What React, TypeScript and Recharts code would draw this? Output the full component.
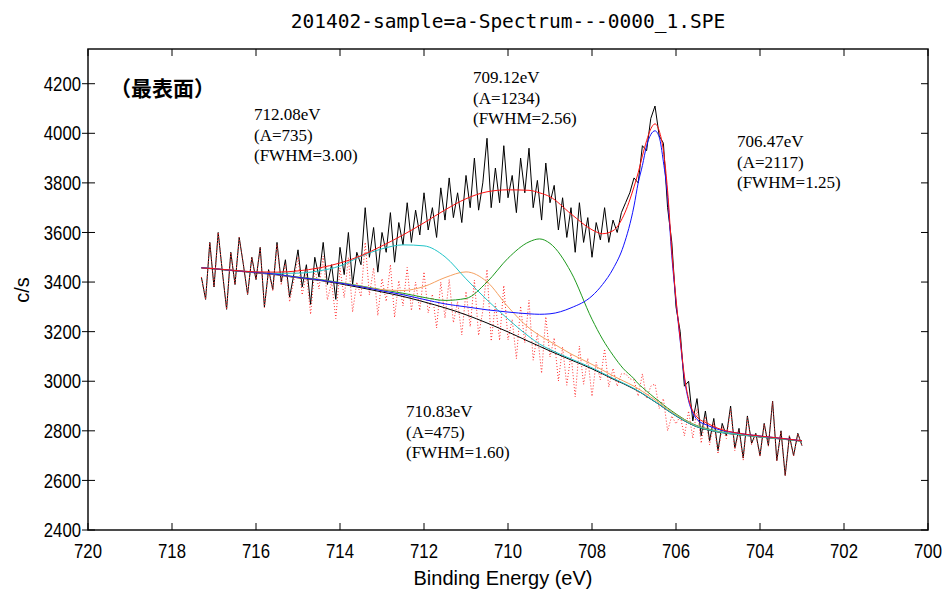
import React from 'react';
import {
  LineChart,
  Line,
  XAxis,
  YAxis,
  ReferenceArea,
} from 'recharts';

// binding energy grid of the measured spectrum (eV)
const energies = [
  717.3, 717.2, 717.1,
  717.0, 716.9, 716.8, 716.7, 716.6, 716.5, 716.4, 716.3, 716.2, 716.1,
  716.0, 715.9, 715.8, 715.7, 715.6, 715.5, 715.4, 715.3, 715.2, 715.1,
  715.0, 714.9, 714.8, 714.7, 714.6, 714.5, 714.4, 714.3, 714.2, 714.1,
  714.0, 713.9, 713.8, 713.7, 713.6, 713.5, 713.4, 713.3, 713.2, 713.1,
  713.0, 712.9, 712.8, 712.7, 712.6, 712.5, 712.4, 712.3, 712.2, 712.1,
  712.0, 711.9, 711.8, 711.7, 711.6, 711.5, 711.4, 711.3, 711.2, 711.1,
  711.0, 710.9, 710.8, 710.7, 710.6, 710.5, 710.4, 710.3, 710.2, 710.1,
  710.0, 709.9, 709.8, 709.7, 709.6, 709.5, 709.4, 709.3, 709.2, 709.1,
  709.0, 708.9, 708.8, 708.7, 708.6, 708.5, 708.4, 708.3, 708.2, 708.1,
  708.0, 707.9, 707.8, 707.7, 707.6, 707.5, 707.4, 707.3, 707.2, 707.1,
  707.0, 706.9, 706.8, 706.7, 706.6, 706.5, 706.4, 706.3, 706.2, 706.1,
  706.0, 705.9, 705.8, 705.7, 705.6, 705.5, 705.4, 705.3, 705.2, 705.1,
  705.0, 704.9, 704.8, 704.7, 704.6, 704.5, 704.4, 704.3, 704.2, 704.1,
  704.0, 703.9, 703.8, 703.7, 703.6, 703.5, 703.4, 703.3, 703.2, 703.1,
  703.0,
];

// measured counts (c/s), black
const counts = [
  3420, 3330, 3560,
  3380, 3600, 3440, 3290, 3520, 3390, 3580, 3470, 3350, 3500,
  3410, 3540, 3300, 3450, 3370, 3560, 3400, 3490, 3340, 3430,
  3530, 3380, 3470, 3310, 3500, 3420, 3560, 3390, 3470, 3330,
  3540, 3430, 3600, 3390, 3520, 3470, 3700, 3500, 3620, 3440,
  3600, 3520, 3680, 3480, 3640, 3550, 3720, 3560, 3690, 3590,
  3760, 3610, 3700, 3580, 3780, 3650, 3820, 3660, 3760, 3640,
  3830, 3700, 3900, 3690, 3800, 3980, 3700, 3860, 3720, 3950,
  3740, 3830, 3680, 3900, 3760, 3940, 3700, 3810, 3650, 3880,
  3720, 3790, 3610, 3740, 3580, 3700, 3520, 3720, 3560, 3660,
  3500, 3640, 3570, 3700, 3560, 3650, 3600, 3680, 3720, 3760,
  3820, 3800, 3950, 3930, 4060, 4110, 3990, 3960, 3700, 3560,
  3300, 3200, 2980, 3000, 2840, 2930, 2780, 2880, 2760, 2850,
  2720, 2830, 2780, 2900, 2730, 2810, 2690, 2860, 2750, 2790,
  2700, 2830, 2740, 2920, 2680, 2800, 2620, 2780, 2700, 2790,
  2740,
];

// residual on background (red dotted)
const residual = [
  3420, 3330, 3560,
  3380, 3600, 3440, 3290, 3520, 3390, 3580, 3470, 3350, 3500,
  3410, 3538, 3297, 3446, 3365, 3552, 3388, 3474, 3320, 3406,
  3502, 3348, 3434, 3270, 3456, 3372, 3505, 3328, 3400, 3253,
  3456, 3337, 3498, 3279, 3400, 3341, 3560, 3348, 3457, 3265,
  3414, 3322, 3470, 3258, 3406, 3304, 3459, 3285, 3400, 3286,
  3441, 3276, 3351, 3215, 3400, 3255, 3410, 3236, 3321, 3187,
  3362, 3220, 3408, 3185, 3283, 3451, 3162, 3313, 3165, 3386,
  3167, 3249, 3091, 3303, 3155, 3327, 3085, 3193, 3032, 3260,
  3098, 3175, 3001, 3138, 2984, 3111, 2937, 3142, 2988, 3093,
  2939, 3077, 3005, 3130, 2977, 3052, 2980, 3030, 3030, 3010,
  3005, 2940, 3030, 2930, 2980, 2989, 2890, 2930, 2800, 2860,
  2828, 2860, 2780, 2880, 2770, 2890, 2750, 2858, 2743, 2835,
  2707, 2818, 2769, 2889, 2720, 2801, 2682, 2853, 2744, 2785,
  2696, 2828, 2738, 2918, 2678, 2798, 2618, 2778, 2698, 2788,
  2738,
];

// grid for the fitted curves (eV)
const fitE = [
  717.3, 717.0, 716.5, 716.0, 715.5, 715.0, 714.5, 714.0, 713.5, 713.0,
  712.5, 712.0, 711.5, 711.0, 710.5, 710.0, 709.5, 709.25, 709.0, 708.5,
  708.0, 707.75, 707.5, 707.25, 707.0, 706.9, 706.8, 706.7, 706.6, 706.5,
  706.4, 706.3, 706.2, 706.1, 706.0, 705.9, 705.8, 705.7, 705.6, 705.5,
  705.25, 705.0, 704.5, 704.0, 703.5, 703.0,
];

const background = [
  3457, 3453, 3445, 3437, 3429, 3417, 3407, 3393, 3377, 3360,
  3342, 3320, 3296, 3268, 3235, 3199, 3160, 3141, 3122, 3086,
  3050, 3030, 3009, 2990, 2969, 2960, 2950, 2939, 2928, 2917,
  2906, 2894, 2882, 2871, 2860, 2850, 2840, 2831, 2823, 2816,
  2804, 2795, 2784, 2775, 2767, 2758,
];

const envelope = [
  3457, 3454, 3447, 3441, 3440, 3445, 3457, 3477, 3506, 3546,
  3590, 3639, 3691, 3736, 3764, 3772, 3770, 3760, 3744, 3675,
  3611, 3595, 3607, 3667, 3784, 3841, 3909, 3970, 4018, 4038,
  4010, 3930, 3768, 3526, 3332, 3171, 3021, 2929, 2880, 2856,
  2830, 2810, 2790, 2779, 2770, 2760,
];

// 706.47 eV component
const peak706 = [
  3458, 3454, 3446, 3439, 3431, 3419, 3409, 3396, 3381, 3365,
  3349, 3330, 3312, 3300, 3288, 3279, 3272, 3270, 3272, 3296,
  3344, 3390, 3453, 3546, 3707, 3800, 3870, 3950, 3995, 4010,
  3985, 3885, 3745, 3506, 3324, 3163, 3012, 2921, 2872, 2846,
  2822, 2806, 2790, 2779, 2770, 2760,
];

// 709.12 eV component
const peak709 = [
  3458, 3454, 3446, 3439, 3431, 3420, 3411, 3398, 3384, 3369,
  3355, 3338, 3326, 3334, 3400, 3496, 3562, 3574, 3556, 3440,
  3250, 3170, 3105, 3050, 3010, 2990, 2975, 2960, 2946, 2932,
  2919, 2905, 2892, 2880, 2868, 2857, 2846, 2837, 2828, 2821,
  2808, 2798, 2786, 2776, 2768, 2759,
];

// 710.83 eV component
const peak710 = [
  3458, 3454, 3446, 3438, 3430, 3418, 3409, 3396, 3382, 3369,
  3366, 3382, 3418, 3441, 3401, 3300, 3215, 3185, 3160, 3110,
  3068, 3045, 3022, 3001, 2980, 2970, 2959, 2948, 2936, 2925,
  2913, 2900, 2888, 2876, 2865, 2854, 2844, 2835, 2826, 2819,
  2806, 2797, 2785, 2776, 2768, 2759,
];

// 712.08 eV component
const peak712 = [
  3457, 3454, 3447, 3440, 3435, 3436, 3445, 3465, 3504, 3534,
  3550, 3546, 3502, 3413, 3328, 3251, 3180, 3150, 3128, 3090,
  3054, 3033, 3012, 2992, 2971, 2961, 2951, 2940, 2929, 2918,
  2907, 2895, 2883, 2872, 2861, 2851, 2841, 2832, 2824, 2817,
  2805, 2796, 2785, 2776, 2768, 2759,
];

const xTicks = [720, 718, 716, 714, 712, 710, 708, 706, 704, 702, 700];
const yTicks = [2400, 2600, 2800, 3000, 3200, 3400, 3600, 3800, 4000, 4200];

const W = 940;
const H = 582;
const PLOT = { left: 80, right: 920, top: 41, bottom: 522 };
const tickFont = "'Liberation Sans', Arial, sans-serif";
const serif = "'Liberation Serif', 'Times New Roman', serif";
// tick digits in the original are narrow, squeeze them to that width
const DIGIT_W = 9.3;

const spectrum = energies.map((e, i) => ({ e, counts: counts[i], resid: residual[i] }));
const fit = fitE.map((e, i) => ({
  e,
  bg: background[i],
  env: envelope[i],
  p706: peak706[i],
  p709: peak709[i],
  p710: peak710[i],
  p712: peak712[i],
}));

function XTick({ x, payload }: any) {
  const label = String(payload.value);
  return (
    <g>
      <line x1={x} x2={x} y1={PLOT.bottom} y2={PLOT.bottom - 7} stroke="#000" />
      <line x1={x} x2={x} y1={PLOT.top} y2={PLOT.top + 7} stroke="#000" />
      <text
        x={x}
        y={PLOT.bottom + 28}
        textAnchor="middle"
        fontSize={20}
        fontFamily={tickFont}
        fill="#000"
        textLength={label.length * DIGIT_W}
        lengthAdjust="spacingAndGlyphs"
      >
        {label}
      </text>
    </g>
  );
}

function YTick({ y, payload }: any) {
  const label = String(payload.value);
  return (
    <g>
      <line x1={PLOT.left - 6} x2={PLOT.left + 7} y1={y} y2={y} stroke="#000" />
      <line x1={PLOT.right - 7} x2={PLOT.right} y1={y} y2={y} stroke="#000" />
      <text
        x={PLOT.left - 7}
        y={y}
        dy="0.36em"
        textAnchor="end"
        fontSize={20}
        fontFamily={tickFont}
        fill="#000"
        textLength={label.length * DIGIT_W}
        lengthAdjust="spacingAndGlyphs"
      >
        {label}
      </text>
    </g>
  );
}

function Note({ left, top, lines }: { left: number; top: number; lines: string[] }) {
  return (
    <div
      style={{
        position: 'absolute',
        left,
        top,
        fontFamily: serif,
        fontSize: 17,
        lineHeight: '20.5px',
        whiteSpace: 'nowrap',
        color: '#000',
      }}
    >
      {lines.map((l) => (
        <div key={l}>{l}</div>
      ))}
    </div>
  );
}

export default function App() {
  return (
    <div style={{ position: 'relative', width: W, height: H }}>
      <LineChart
        width={W}
        height={H - 8}
        margin={{ top: PLOT.top, right: W - PLOT.right, left: 0, bottom: 12 }}
      >
        <XAxis
          dataKey="e"
          type="number"
          domain={[700, 720]}
          reversed
          ticks={xTicks}
          interval={0}
          axisLine={false}
          tickLine={false}
          tick={<XTick />}
          height={40}
          allowDataOverflow
        />
        <YAxis
          type="number"
          domain={[2400, 4340]}
          ticks={yTicks}
          interval={0}
          axisLine={false}
          tickLine={false}
          tick={<YTick />}
          width={80}
          allowDataOverflow
        />
        <ReferenceArea
          x1={720}
          x2={700}
          y1={2400}
          y2={4340}
          fill="none"
          fillOpacity={0}
          stroke="#111"
          strokeWidth={1.5}
        />
        <Line data={spectrum} dataKey="counts" stroke="#000" strokeWidth={1} dot={false} type="linear" isAnimationActive={false} />
        <Line data={spectrum} dataKey="resid" stroke="#ff3030" strokeWidth={1} strokeDasharray="1 2" dot={false} type="linear" isAnimationActive={false} />
        <Line data={fit} dataKey="bg" stroke="#000" strokeWidth={1} dot={false} type="monotone" isAnimationActive={false} />
        <Line data={fit} dataKey="p709" stroke="#1e9a1e" strokeWidth={1} dot={false} type="monotone" isAnimationActive={false} />
        <Line data={fit} dataKey="p710" stroke="#f5a060" strokeWidth={1} dot={false} type="monotone" isAnimationActive={false} />
        <Line data={fit} dataKey="p712" stroke="#20c4c8" strokeWidth={1} dot={false} type="monotone" isAnimationActive={false} />
        <Line data={fit} dataKey="p706" stroke="#1010ff" strokeWidth={1} dot={false} type="monotone" isAnimationActive={false} />
        <Line data={fit} dataKey="env" stroke="#ff1010" strokeWidth={1} dot={false} type="monotone" isAnimationActive={false} />
      </LineChart>

      <div
        style={{
          position: 'absolute',
          left: 0,
          width: 1000,
          top: 2,
          lineHeight: '24px',
          textAlign: 'center',
          fontFamily: "'DejaVu Sans Mono', monospace",
          fontSize: 19.5,
          color: '#000',
        }}
      >
        201402-sample=a-Spectrum---0000_1.SPE
      </div>
      <div
        style={{
          position: 'absolute',
          left: 0,
          width: 990,
          top: 558,
          lineHeight: '24px',
          textAlign: 'center',
          fontFamily: "'Liberation Sans', Arial, sans-serif",
          fontSize: 20,
          color: '#000',
        }}
      >
        Binding Energy (eV)
      </div>
      <div
        style={{
          position: 'absolute',
          left: -6,
          top: 270,
          width: 40,
          lineHeight: '24px',
          textAlign: 'center',
          transform: 'rotate(-90deg)',
          fontFamily: "'Liberation Sans', Arial, sans-serif",
          fontSize: 20,
          color: '#000',
        }}
      >
        c/s
      </div>
      <div
        style={{
          position: 'absolute',
          left: 102,
          top: 67,
          lineHeight: '24px',
          fontFamily: "'Noto Sans CJK JP', sans-serif",
          fontWeight: 700,
          fontSize: 21,
          color: '#000',
          whiteSpace: 'nowrap',
        }}
      >
        （最表面）
      </div>
      <Note left={246} top={97} lines={['712.08eV', '(A=735)', '(FWHM=3.00)']} />
      <Note left={465} top={60} lines={['709.12eV', '(A=1234)', '(FWHM=2.56)']} />
      <Note left={729} top={124} lines={['706.47eV', '(A=2117)', '(FWHM=1.25)']} />
      <Note left={398} top={394} lines={['710.83eV', '(A=475)', '(FWHM=1.60)']} />
    </div>
  );
}
